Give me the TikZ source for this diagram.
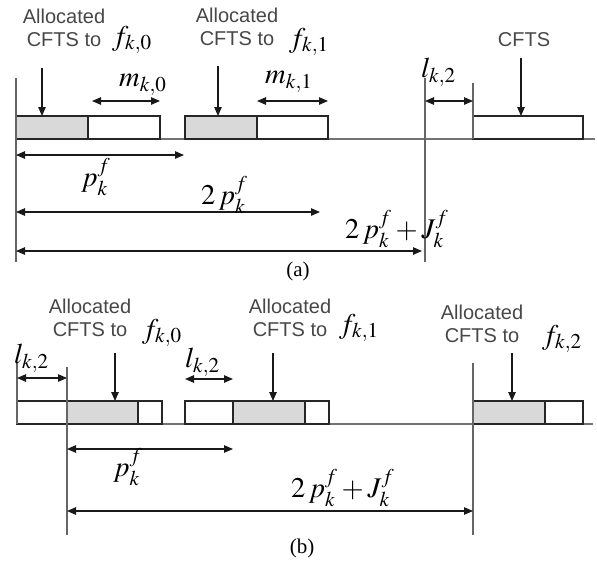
\documentclass[tikz,border=0pt]{standalone}
\usepackage{mathptmx}
\usepackage[no-math]{fontspec}
\setmainfont{Liberation Serif}
\newfontfamily\arialfont{Liberation Sans}
\usetikzlibrary{arrows.meta}
\tikzset{
  lbl/.style={font=\arialfont\fontsize{20}{23}\selectfont, text=black!72, align=center, inner sep=0pt},
  mth/.style={font=\fontsize{28.5}{32}\selectfont, inner sep=0pt, anchor=west},
  captext/.style={font=\fontsize{21}{24}\selectfont, inner sep=0pt},
  tip/.tip={Triangle[length=9pt,width=7.5pt]},
  arr/.style={-tip, line width=1.1pt, draw=black!90},
  dbl/.style={tip-tip, line width=1.1pt, draw=black!90},
  vline/.style={draw=black!60, line width=1.2pt},
  baseln/.style={draw=black!55, line width=1.5pt},
  slot/.style={draw=black!85, line width=1.1pt},
  gslot/.style={slot, fill=black!15}
}
\begin{document}
\begin{tikzpicture}[x=1pt,y=-1pt]
\useasboundingbox (0,0) rectangle (597,563);
% ---------------- (a) ----------------
\coordinate (a0) at (16,78);   \coordinate (a0b) at (16,262);
\coordinate (a1) at (425,78);  \coordinate (a1b) at (425,262);
\coordinate (a2) at (473,83);  \coordinate (a2b) at (473,139);
\draw[baseln] (16,139) coordinate (abl) -- (595,139) coordinate (abr);
\draw[gslot] (16,116) rectangle (88,139);
\draw[slot] (88,116) rectangle (160,139);
\draw[gslot] (185,116) rectangle (257,139);
\draw[slot] (257,116) rectangle (328,139);
\draw[slot] (473,116) rectangle (583,139);
\draw[vline] (a0) -- (a0b);
\draw[vline] (a1) -- (a1b);
\draw[vline] (a2) -- (a2b);

\node[lbl] (ta0) at (64,28) {Allocated\\CFTS to};
\node[mth] (fa0) at (112,40) {$f_{k{,}0}$};
\coordinate (aa0s) at (42,68); \coordinate (aa0e) at (42,116);
\draw[arr] (aa0s) -- (aa0e);

\node[lbl] (ta1) at (237,27) {Allocated\\CFTS to};
\node[mth] (fa1) at (289,42) {$f_{k{,}1}$};
\coordinate (aa1s) at (218,66); \coordinate (aa1e) at (218,116);
\draw[arr] (aa1s) -- (aa1e);

\node[mth] (ma0) at (119,85) {$m_{k{,}0}$};
\coordinate (m0s) at (92,101); \coordinate (m0e) at (160,101);
\draw[dbl] (m0s) -- (m0e);
\node[mth] (ma1) at (265,82) {$m_{k{,}1}$};
\coordinate (m1s) at (257,101); \coordinate (m1e) at (328,101);
\draw[dbl] (m1s) -- (m1e);

\node[mth] (la) at (421,72) {$l_{k{,}2}$};
\coordinate (las) at (425,101); \coordinate (lae) at (473,101);
\draw[dbl] (las) -- (lae);

\node[lbl] (cfts) at (524,40) {CFTS};
\coordinate (acs) at (521,58); \coordinate (ace) at (521,116);
\draw[arr] (acs) -- (ace);

\coordinate (pas) at (16,155); \coordinate (pae) at (184,155);
\draw[dbl] (pas) -- (pae);
\node[mth] (pa) at (81,177) {$p_k^f$};

\coordinate (p2s) at (16,212); \coordinate (p2e) at (320,212);
\draw[dbl] (p2s) -- (p2e);
\node[mth] (p2a) at (201,195) {$2\,p_k^f$};

\coordinate (pjs) at (16,251); \coordinate (pje) at (422,251);
\draw[dbl] (pjs) -- (pje);
\node[mth] (pja) at (345,229) {$2\,p_k^f+J_k^f$};

\node[captext] (capa) at (298,271) {(a)};

% ---------------- (b) ----------------
\coordinate (b0) at (17,362);  \coordinate (b0b) at (17,424);
\coordinate (b1) at (67,367);  \coordinate (b1b) at (67,535);
\coordinate (b2) at (473,363); \coordinate (b2b) at (473,535);
\draw[baseln] (16,424) coordinate (bbl) -- (593,424) coordinate (bbr);
\draw[slot] (17,401) rectangle (67,424);
\draw[gslot] (67,401) rectangle (138,424);
\draw[slot] (138,401) rectangle (162,424);
\draw[slot] (185,401) rectangle (233,424);
\draw[gslot] (233,401) rectangle (305,424);
\draw[slot] (305,401) rectangle (329,424);
\draw[gslot] (473,401) rectangle (545,424);
\draw[slot] (545,401) rectangle (583,424);
\draw[vline] (b0) -- (b0b);
\draw[vline] (b1) -- (b1b);
\draw[vline] (b2) -- (b2b);

\node[mth] (lb0) at (14,358) {$l_{k{,}2}$};
\coordinate (lb0s) at (17,378); \coordinate (lb0e) at (67,378);
\draw[dbl] (lb0s) -- (lb0e);

\node[lbl] (tb0) at (90,318) {Allocated\\CFTS to};
\node[mth] (fb0) at (142,333) {$f_{k{,}0}$};
\coordinate (ab0s) at (115,353); \coordinate (ab0e) at (115,401);
\draw[arr] (ab0s) -- (ab0e);

\node[mth] (lb1) at (185,362) {$l_{k{,}2}$};
\coordinate (lb1s) at (185,379); \coordinate (lb1e) at (233,379);
\draw[dbl] (lb1s) -- (lb1e);

\node[lbl] (tb1) at (290,318) {Allocated\\CFTS to};
\node[mth] (fb1) at (339,328) {$f_{k{,}1}$};
\coordinate (ab1s) at (273,353); \coordinate (ab1e) at (273,401);
\draw[arr] (ab1s) -- (ab1e);

\node[lbl] (tb2) at (482,324) {Allocated\\CFTS to};
\node[mth] (fb2) at (542,339) {$f_{k{,}2}$};
\coordinate (ab2s) at (512,353); \coordinate (ab2e) at (512,401);
\draw[arr] (ab2s) -- (ab2e);

\coordinate (pbs) at (67,449); \coordinate (pbe) at (233,449);
\draw[dbl] (pbs) -- (pbe);
\node[mth] (pb) at (113,467) {$p_k^f$};

\coordinate (pjbs) at (67,511); \coordinate (pjbe) at (473,511);
\draw[dbl] (pjbs) -- (pjbe);
\node[mth] (pjb) at (291,488) {$2\,p_k^f+J_k^f$};

\node[captext] (capb) at (302,548) {(b)};
\end{tikzpicture}
\end{document}
